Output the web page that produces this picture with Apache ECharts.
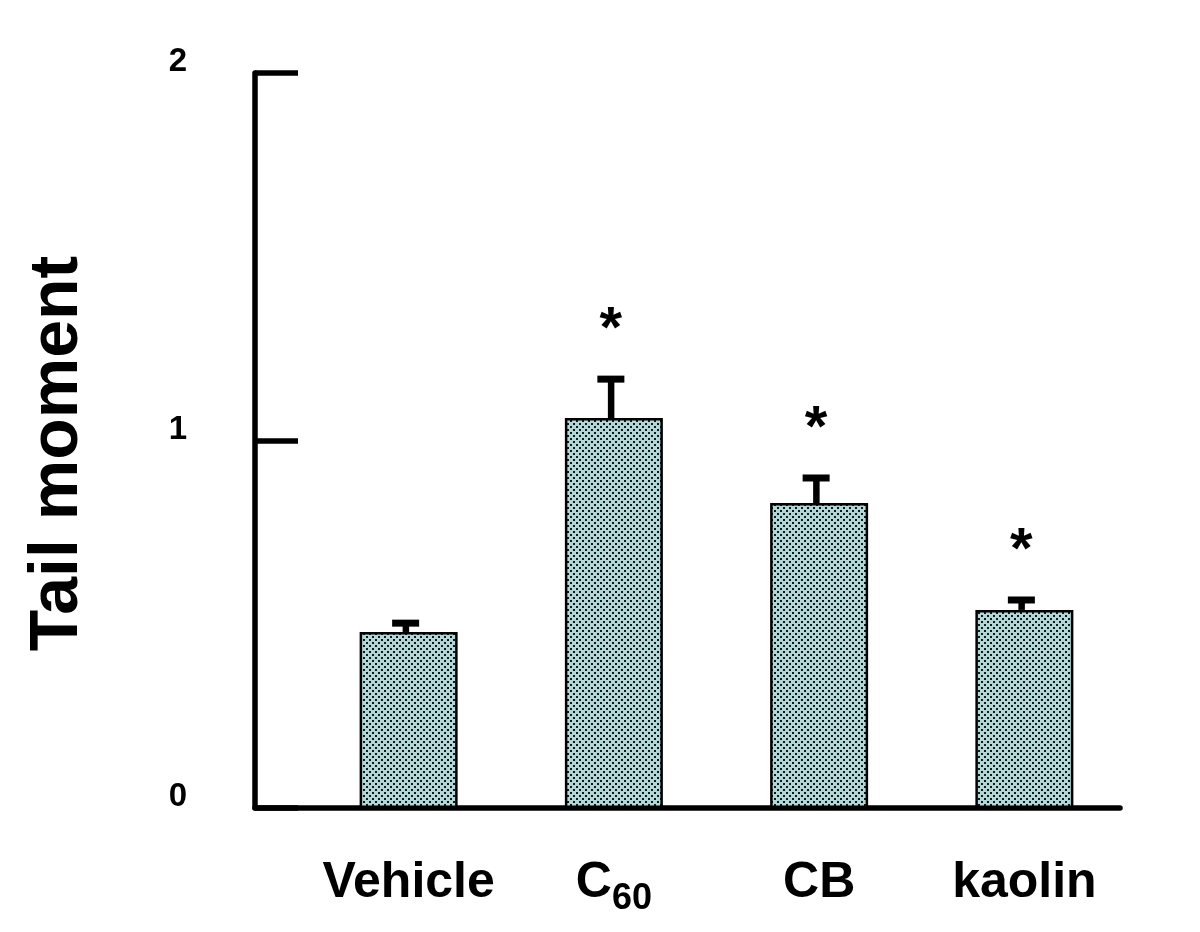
<!DOCTYPE html>
<html>
<head>
<meta charset="utf-8">
<script src="https://cdn.jsdelivr.net/npm/echarts@6/dist/echarts.min.js"></script>
<style>html,body{margin:0;padding:0;background:#fff}#c{width:1200px;height:932px}</style>
</head>
<body>
<div id="c"></div>
<script>
const categories = ['Vehicle', 'C60', 'CB', 'kaolin'];
const categoryLabels = ['Vehicle', '{a|C}{b|60}', 'CB', 'kaolin'];
const means = [0.479, 1.061, 0.830, 0.539];
const errorTops = [0.503, 1.167, 0.898, 0.566];
const stars = ['', '*', '*', '*'];
const yTicks = [0, 1, 2];

const FONT = "'Liberation Sans', Arial, sans-serif";

// crosshatch pattern for bars
const pc = document.createElement('canvas');
pc.width = 6; pc.height = 6;
const g = pc.getContext('2d');
g.fillStyle = '#b4d6d6'; g.fillRect(0, 0, 6, 6);
g.fillStyle = '#0d1a1a';
g.fillRect(0, 0, 2, 2);
g.fillRect(3, 3, 2, 2);

const chart = echarts.init(document.getElementById('c'), null, {renderer: 'canvas'});
chart.setOption({
  backgroundColor: '#fff',
  animation: false,
  grid: [
    {left: 255, right: 80, top: 73, bottom: 124},
    {left: 306, right: 73, top: 73, bottom: 124}
  ],
  xAxis: [
    {gridIndex: 0, type: 'value', min: 0, max: 1, axisLine: {show: true, lineStyle: {color: '#000', width: 5.5}},
      axisTick: {show: false}, axisLabel: {show: false}, splitLine: {show: false}},
    {gridIndex: 1, type: 'category', data: categories, axisLine: {show: false}, axisTick: {show: false},
      axisLabel: {
        interval: 0, margin: 50, color: '#000', fontFamily: FONT, fontWeight: 'bold', fontSize: 50, lineHeight: 50,
        formatter: (v, i) => categoryLabels[i],
        rich: {
          a: {fontFamily: FONT, fontWeight: 'bold', fontSize: 50, lineHeight: 50, color: '#000'},
          b: {fontFamily: FONT, fontWeight: 'bold', fontSize: 36, lineHeight: 18, color: '#000', padding: [32, 0, 0, 0]}
        }
      }, splitLine: {show: false}}
  ],
  yAxis: [
    {gridIndex: 0, type: 'value', min: 0, max: 2, interval: 1,
      name: 'Tail moment', nameLocation: 'middle', nameRotate: 90, nameGap: 163,
      nameTextStyle: {fontFamily: FONT, fontWeight: 'bold', fontSize: 68, color: '#000', padding: [0, 26, 0, 0]},
      axisLine: {show: true, lineStyle: {color: '#000', width: 5.5}},
      axisTick: {show: true, inside: true, length: 43, lineStyle: {color: '#000', width: 5.5}},
      axisLabel: {margin: 68, color: '#000', fontFamily: FONT, fontWeight: 'bold', fontSize: 33,
        verticalAlign: 'bottom', lineHeight: 22,
        formatter: v => yTicks.includes(v) ? String(v) : ''},
      splitLine: {show: false}},
    {gridIndex: 1, type: 'value', min: 0, max: 2, interval: 1, show: false, splitLine: {show: false}}
  ],
  series: [
    {
      type: 'bar', xAxisIndex: 1, yAxisIndex: 1, data: means, barWidth: 98,
      itemStyle: {color: {image: pc, repeat: 'repeat'}, borderColor: '#000', borderWidth: 2.5}
    },
    {
      type: 'custom', xAxisIndex: 1, yAxisIndex: 1,
      data: categories.map((c, i) => [i, means[i], errorTops[i]]),
      renderItem: function (params, api) {
        const i = api.value(0);
        const base = api.coord([i, api.value(1)]);
        const top = api.coord([i, api.value(2)]);
        const x = base[0] - 3;
        const capW = 27, capH = 7;
        return {
          type: 'group',
          children: [
            {type: 'rect', shape: {x: x - 3, y: top[1], width: 6.5, height: base[1] - top[1]}, style: {fill: '#000'}},
            {type: 'rect', shape: {x: x - capW / 2, y: top[1] - capH / 2, width: capW, height: capH}, style: {fill: '#000'}},
            {type: 'text', style: {text: stars[i], x: x, y: top[1] - 48, align: 'center', verticalAlign: 'middle',
              font: "bold 58px 'Liberation Sans', Arial, sans-serif", fill: '#000'}}
          ]
        };
      }
    }
  ]
});
</script>
</body>
</html>
